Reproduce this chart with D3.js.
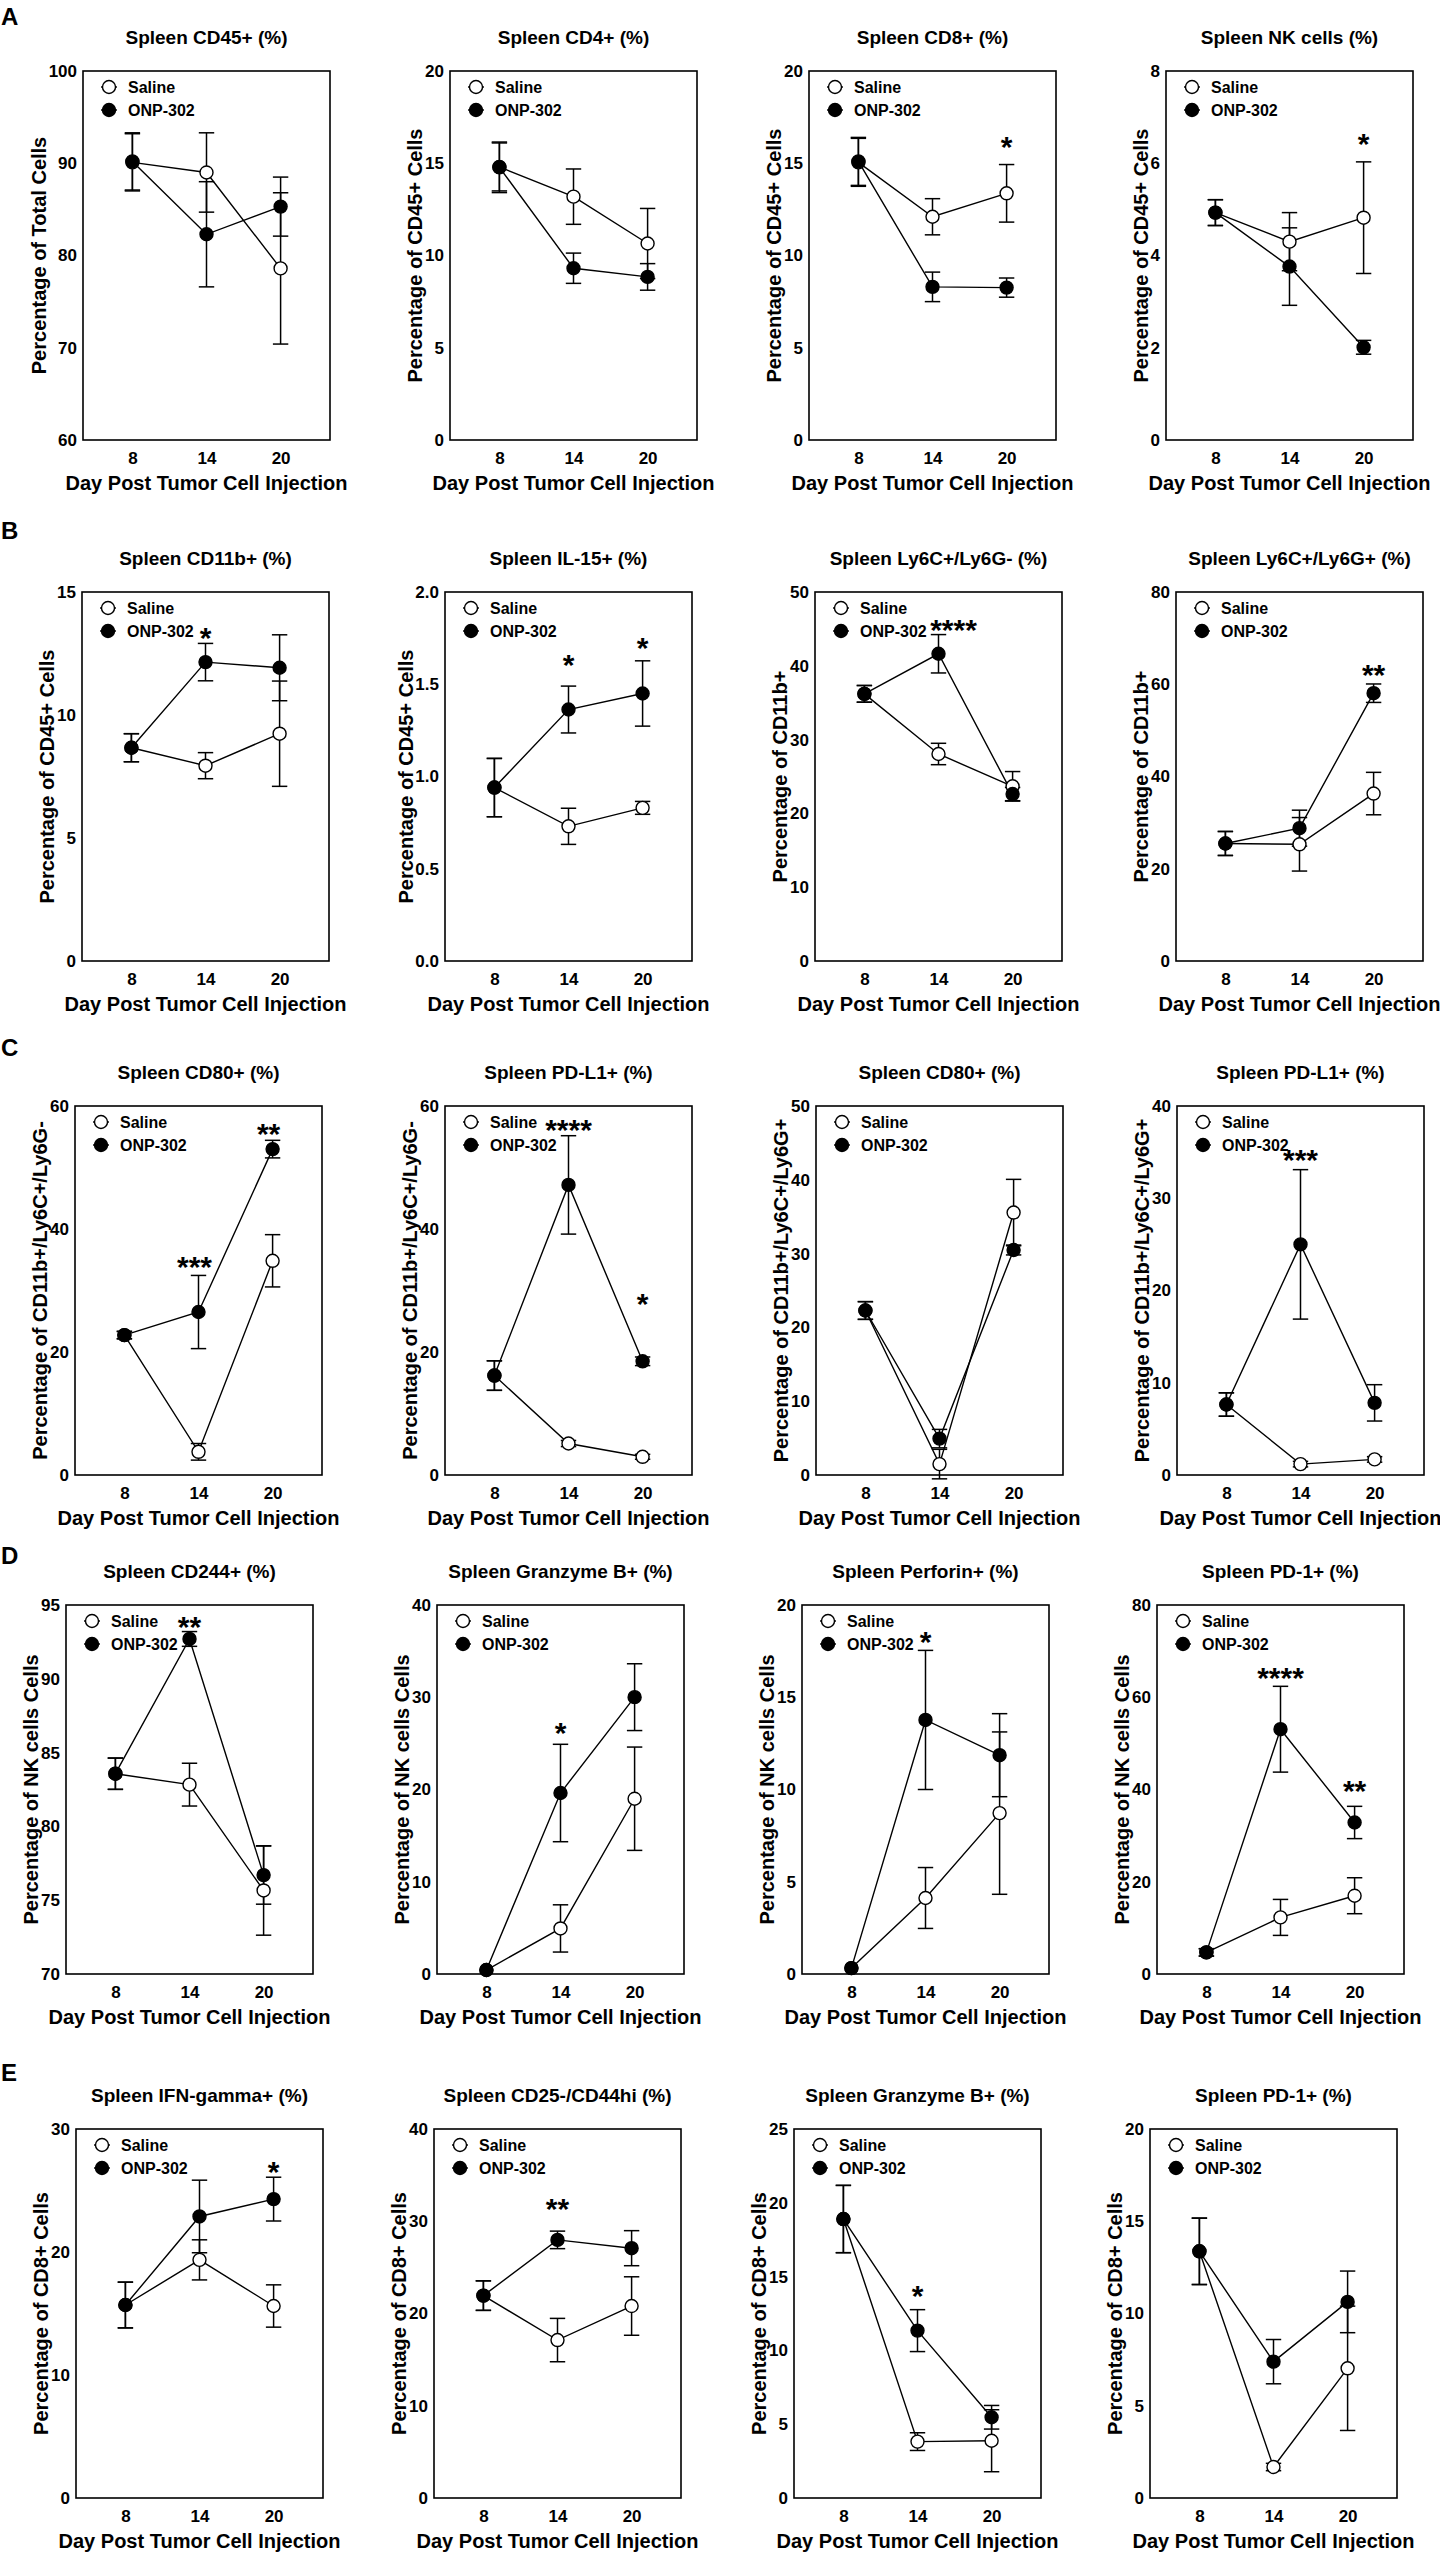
<!DOCTYPE html>
<html><head><meta charset="utf-8">
<script src="https://cdn.jsdelivr.net/npm/d3@7"></script>
<style>
body{margin:0;background:#fff}
svg text{font-family:"Liberation Sans",Arial,Helvetica,sans-serif;font-weight:bold;fill:#000}
</style>
</head><body>
<svg id="fig" width="1440" height="2554"></svg>
<script>
// ---------------- DATA ----------------
const days = [8, 14, 20];
const seriesNames = ["Saline", "ONP-302"];
const rowLetters = ["A", "B", "C", "D", "E"];

const panelTitles = [
  "Spleen CD45+ (%)", "Spleen CD4+ (%)", "Spleen CD8+ (%)", "Spleen NK cells (%)",
  "Spleen CD11b+ (%)", "Spleen IL-15+ (%)", "Spleen Ly6C+/Ly6G- (%)", "Spleen Ly6C+/Ly6G+ (%)",
  "Spleen CD80+ (%)", "Spleen PD-L1+ (%)", "Spleen CD80+ (%)", "Spleen PD-L1+ (%)",
  "Spleen CD244+ (%)", "Spleen Granzyme B+ (%)", "Spleen Perforin+ (%)", "Spleen PD-1+ (%)",
  "Spleen IFN-gamma+ (%)", "Spleen CD25-/CD44hi (%)", "Spleen Granzyme B+ (%)", "Spleen PD-1+ (%)"
];
const yAxisTitles = [
  "Percentage of Total Cells", "Percentage of CD45+ Cells", "Percentage of CD45+ Cells", "Percentage of CD45+ Cells",
  "Percentage of CD45+ Cells", "Percentage of CD45+ Cells", "Percentage of CD11b+", "Percentage of CD11b+",
  "Percentage of CD11b+/Ly6C+/Ly6G-", "Percentage of CD11b+/Ly6C+/Ly6G-", "Percentage of CD11b+/Ly6C+/Ly6G+", "Percentage of CD11b+/Ly6C+/Ly6G+",
  "Percentage of NK cells Cells", "Percentage of NK cells Cells", "Percentage of NK cells Cells", "Percentage of NK cells Cells",
  "Percentage of CD8+ Cells", "Percentage of CD8+ Cells", "Percentage of CD8+ Cells", "Percentage of CD8+ Cells"
];
const xAxisTitle = "Day Post Tumor Cell Injection";

const yTickValues = [
  [60, 70, 80, 90, 100], [0, 5, 10, 15, 20], [0, 5, 10, 15, 20], [0, 2, 4, 6, 8],
  [0, 5, 10, 15], [0, 0.5, 1.0, 1.5, 2.0], [0, 10, 20, 30, 40, 50], [0, 20, 40, 60, 80],
  [0, 20, 40, 60], [0, 20, 40, 60], [0, 10, 20, 30, 40, 50], [0, 10, 20, 30, 40],
  [70, 75, 80, 85, 90, 95], [0, 10, 20, 30, 40], [0, 5, 10, 15, 20], [0, 20, 40, 60, 80],
  [0, 10, 20, 30], [0, 10, 20, 30, 40], [0, 5, 10, 15, 20, 25], [0, 5, 10, 15, 20]
];
const yTickDecimals = [0,0,0,0, 0,1,0,0, 0,0,0,0, 0,0,0,0, 0,0,0,0];

const salineMean = [
  [90.1, 89.0, 78.6], [14.8, 13.19, 10.65], [15.05, 12.1, 13.37], [4.93, 4.30, 4.82],
  [8.67, 7.94, 9.24], [0.94, 0.73, 0.83], [36.2, 28.05, 23.67], [25.48, 25.3, 36.3],
  [22.75, 3.77, 34.83], [16.17, 5.12, 2.96], [22.29, 1.48, 35.56], [7.64, 1.18, 1.69],
  [83.57, 82.83, 75.66], [0.43, 4.94, 19.0], [0.32, 4.12, 8.72], [4.69, 12.27, 16.97],
  [15.69, 19.36, 15.61], [21.94, 17.12, 20.81], [18.9, 3.82, 3.88], [13.37, 1.68, 7.03]
];
const salineErr = [
  [3.1, 4.3, 8.2], [1.3, 1.5, 1.9], [1.3, 0.98, 1.56], [0.28, 0.63, 1.21],
  [0.57, 0.53, 2.14], [0.158, 0.098, 0.035], [1.13, 1.45, 2.0], [2.6, 5.8, 4.6],
  [0.6, 1.35, 4.25], [2.4, 0.5, 0.4], [1.2, 2.0, 4.5], [1.27, 0.3, 0.3],
  [1.06, 1.45, 3.03], [0, 2.56, 5.6], [0, 1.65, 4.4], [0.8, 3.9, 3.9],
  [1.86, 1.63, 1.72], [1.6, 2.35, 3.17], [2.28, 0.6, 2.1], [1.8, 0.2, 3.37]
];
const onpMean = [
  [90.2, 82.3, 85.3], [14.78, 9.31, 8.84], [15.1, 8.3, 8.26], [4.93, 3.76, 2.01],
  [8.67, 12.15, 11.92], [0.94, 1.363, 1.45], [36.2, 41.63, 22.62], [25.48, 28.8, 58.06],
  [22.75, 26.5, 52.99], [16.17, 47.17, 18.49], [22.29, 4.93, 30.49], [7.64, 25.0, 7.82],
  [83.57, 92.7, 76.7], [0.43, 19.62, 30.01], [0.32, 13.77, 11.86], [4.69, 53.07, 32.85],
  [15.69, 22.89, 24.3], [21.94, 27.98, 27.08], [18.9, 11.34, 5.47], [13.37, 7.39, 10.63]
];
const onpErr = [
  [3.1, 5.7, 3.2], [1.37, 0.82, 0.72], [1.3, 0.8, 0.52], [0.28, 0.84, 0.15],
  [0.57, 0.76, 1.34], [0.158, 0.127, 0.177], [1.13, 2.6, 0.9], [2.6, 3.9, 2.0],
  [0.6, 5.95, 1.43], [2.4, 8.0, 0.7], [1.2, 1.25, 0.67], [1.27, 8.1, 1.97],
  [1.06, 0.5, 1.97], [0, 5.28, 3.62], [0, 3.77, 2.25], [0.8, 9.3, 3.5],
  [1.86, 2.95, 1.78], [1.6, 0.95, 1.9], [2.28, 1.42, 0.8], [1.8, 1.2, 1.67]
];
// significance marks: [day, label, value level where the mark sits]
const sigMarks = [
  [], [], [[20, "*", 16.3]], [[20, "*", 6.57]],
  [[14, "*", 13.44]], [[14, "*", 1.647], [20, "*", 1.738]], [[14, "****", 45.8]], [[20, "**", 63.7]],
  [[14, "***", 35.1], [20, "**", 56.7]], [[14, "****", 57.25], [20, "*", 28.95]], [], [[14, "***", 34.98]],
  [[14, "**", 94.05]], [[14, "*", 26.94]], [[14, "*", 18.38]], [[14, "****", 65.7], [20, "**", 41.37]],
  [[20, "*", 27.1]], [[14, "**", 32.15]], [[14, "*", 14.16]], []
];

// ---------------- LAYOUT ----------------
const rowTop = [71, 592, 1106, 1605, 2129];
const letterY = [16.5, 530, 1047, 1555, 2072];
const boxLeft = [
  [83, 450, 809, 1166], [82, 445, 815, 1176], [75, 445, 816, 1177],
  [66, 437, 802, 1157], [76, 434, 794, 1150]
];
const boxW = 247, boxH = 369;
const xDomain = [4, 24];
// horizontal nudge (px) of significance marks, per panel
const sigShift = [0,0,0,0, 0,0,15,0, -4,0,0,0, 0,0,0,0, 0,0,0,0];

const svg = d3.select("#fig");
svg.append("rect").attr("width", 1440).attr("height", 2554).attr("fill", "#fff");

rowLetters.forEach((L, r) => {
  svg.append("text").attr("x", 1).attr("y", letterY[r]).attr("dy", "0.36em")
    .style("font-size", "24px").text(L);
});

for (let p = 0; p < 20; p++) {
  const r = Math.floor(p / 4), c = p % 4;
  const left = boxLeft[r][c], top = rowTop[r];
  const ticks = yTickValues[p];
  const x = d3.scaleLinear().domain(xDomain).range([left, left + boxW]);
  const y = d3.scaleLinear().domain([ticks[0], ticks[ticks.length - 1]]).range([top + boxH, top]);
  const g = svg.append("g");

  // title
  g.append("text").attr("x", left + boxW / 2).attr("y", top - 34).attr("dy", "0.36em")
    .attr("text-anchor", "middle").style("font-size", "19px").text(panelTitles[p]);

  // y axis
  const fmt = yTickDecimals[p] ? d3.format(".1f") : d3.format("d");
  const ya = g.append("g").attr("transform", `translate(${left},0)`)
    .call(d3.axisLeft(y).tickValues(ticks).tickFormat(fmt).tickSize(0).tickPadding(6));
  ya.select(".domain").remove();
  ya.selectAll("text").style("font-size", "17px").style("font-family", null);
  let maxW = 0;
  ya.selectAll("text").each(function () { maxW = Math.max(maxW, this.getComputedTextLength()); });

  // x axis
  const xa = g.append("g").attr("transform", `translate(0,${top + boxH})`)
    .call(d3.axisBottom(x).tickValues(days).tickFormat(d3.format("d")).tickSize(0).tickPadding(12));
  xa.select(".domain").remove();
  xa.selectAll("text").style("font-size", "17px").style("font-family", null);

  // frame
  g.append("rect").attr("x", left).attr("y", top).attr("width", boxW).attr("height", boxH)
    .attr("fill", "none").attr("stroke", "#000").attr("stroke-width", 1.6);

  // axis titles
  g.append("text").attr("x", left + boxW / 2).attr("y", top + boxH + 43).attr("dy", "0.36em")
    .attr("text-anchor", "middle").style("font-size", "20px").text(xAxisTitle);
  const cx = left - 6 - maxW - 10, cy = top + boxH / 2;
  g.append("text").attr("transform", `translate(${cx},${cy}) rotate(-90)`).attr("dy", "0.36em")
    .attr("text-anchor", "middle").style("font-size", "20px").text(yAxisTitles[p]);

  // series
  const series = [
    { mean: salineMean[p], err: salineErr[p], fill: "#fff" },
    { mean: onpMean[p], err: onpErr[p], fill: "#000" }
  ];
  const line = d3.line().x((d, i) => x(days[i])).y(d => y(d));
  series.forEach(s => {
    g.append("path").attr("d", line(s.mean)).attr("fill", "none")
      .attr("stroke", "#000").attr("stroke-width", 1.4);
  });
  series.forEach(s => {
    days.forEach((dd, i) => {
      const e = s.err[i];
      if (!e) return;
      const xx = x(dd), y1 = y(s.mean[i] + e), y2 = y(s.mean[i] - e);
      g.append("line").attr("x1", xx).attr("x2", xx).attr("y1", y1).attr("y2", y2)
        .attr("stroke", "#000").attr("stroke-width", 1.5);
      [y1, y2].forEach(yy => g.append("line").attr("x1", xx - 7.7).attr("x2", xx + 7.7)
        .attr("y1", yy).attr("y2", yy).attr("stroke", "#000").attr("stroke-width", 1.5));
    });
  });
  series.forEach(s => {
    g.selectAll(null).data(s.mean).enter().append("circle")
      .attr("cx", (d, i) => x(days[i])).attr("cy", d => y(d)).attr("r", 6.5)
      .attr("fill", s.fill).attr("stroke", "#000").attr("stroke-width", 1.4);
  });

  // legend
  seriesNames.forEach((name, k) => {
    const ly = top + 16 + k * 23, lx = left + 26;
    g.append("line").attr("x1", lx - 8).attr("x2", lx + 8).attr("y1", ly).attr("y2", ly)
      .attr("stroke", "#000").attr("stroke-width", 1.4);
    g.append("circle").attr("cx", lx).attr("cy", ly).attr("r", 6.5)
      .attr("fill", k ? "#000" : "#fff").attr("stroke", "#000").attr("stroke-width", 1.4);
    g.append("text").attr("x", left + 45).attr("y", ly).attr("dy", "0.36em")
      .style("font-size", "16px").text(name);
  });

  // significance
  sigMarks[p].forEach(([dd, lab, lev]) => {
    g.append("text").attr("x", x(dd) + sigShift[p]).attr("y", y(lev) + 17.5).attr("text-anchor", "middle")
      .style("font-size", "30px").text(lab);
  });
}
</script>
</body></html>
